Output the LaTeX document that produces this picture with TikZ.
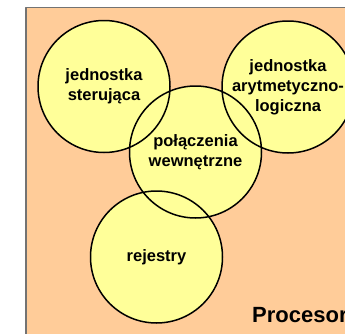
\documentclass[tikz,border=0pt]{standalone}
\usepackage{fontspec}
\setmainfont{Liberation Sans}
\definecolor{tlo}{RGB}{255,204,153}
\definecolor{kolo}{RGB}{255,255,153}
\tikzset{opis/.style={font=\fontsize{16.5}{20}\selectfont\bfseries, align=center}}
\begin{document}
\begin{tikzpicture}[x=1pt, y=1pt, line join=round, line cap=round]
\def\r{66}
\useasboundingbox (0,0) rectangle (345,333);
\clip (0,0) rectangle (345,333);
\draw[fill=tlo, draw=black!55, line width=1.3pt] (26,-10) rectangle (360,325.5);
\coordinate (ster) at (104,246.5);
\coordinate (alu) at (288,246);
\coordinate (pol) at (195.5,181);
\coordinate (rej) at (156.5,76);
% najpierw wypelnienie, potem obrysy
\fill[kolo] (ster) circle (\r) (alu) circle (\r) (pol) circle (\r) (rej) circle (\r);
\draw[line width=1.5pt] (ster) circle (\r) (alu) circle (\r) (pol) circle (\r) (rej) circle (\r);
\node[opis] (tster) at (ster) {jednostka\\sterująca};
\node[opis] (talu) at (alu) {jednostka\\arytmetyczno-\\logiczna};
\node[opis] (tpol) at (pol) {połączenia\\wewnętrzne};
\node[opis] (trej) at (rej) {rejestry};
\node[font=\fontsize{22}{26}\selectfont\bfseries, anchor=base west, inner sep=0pt] (proc) at (252,11) {Procesor};
\end{tikzpicture}
\end{document}
